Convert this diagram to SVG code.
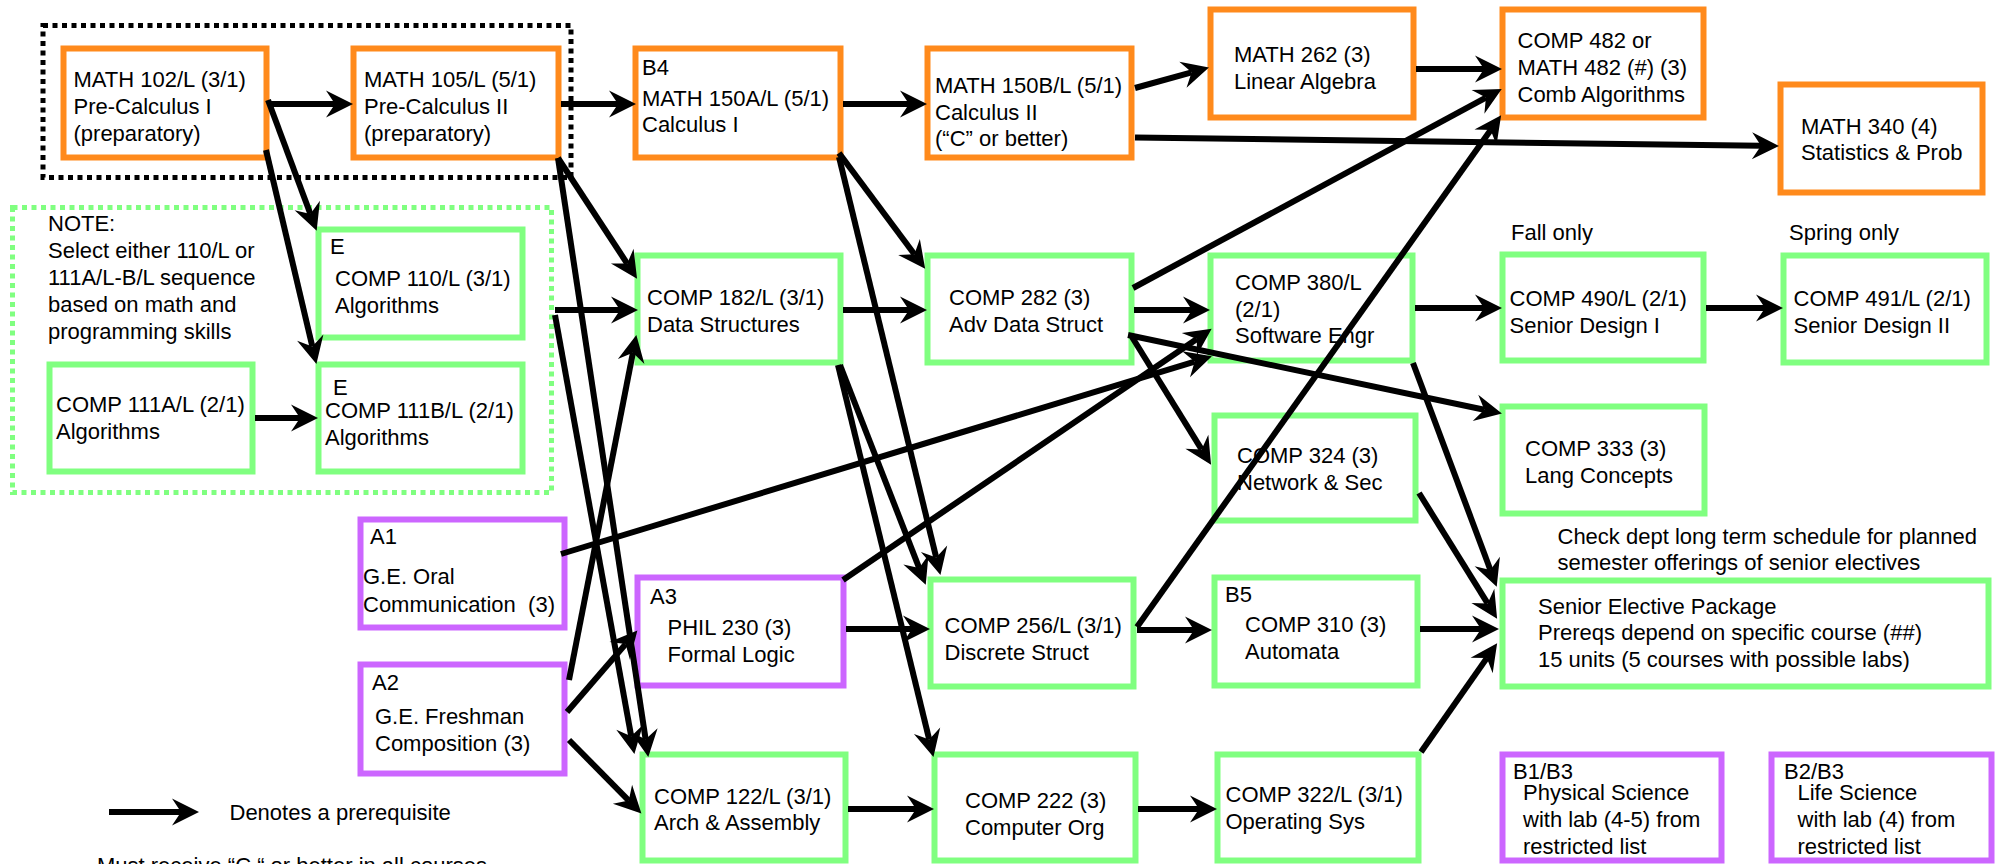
<svg xmlns="http://www.w3.org/2000/svg" width="2011" height="864" viewBox="0 0 2011 864">
<style>
text{font-family:"Liberation Sans",Arial,sans-serif;font-size:22px;fill:#000}
.o{fill:#fff;stroke:#FF8A1C;stroke-width:6}
.g{fill:#fff;stroke:#80FF80;stroke-width:6}
.p{fill:#fff;stroke:#CC66FF;stroke-width:6}
.dotk{fill:none;stroke:#000;stroke-width:5;stroke-dasharray:5 4.5}
.dotg{fill:none;stroke:#80FF80;stroke-width:5;stroke-dasharray:5 4.5}
.c path,.c line{fill:none;stroke:#000;stroke-width:6;marker-end:url(#ah)}
</style>
<defs>
<marker id="ah" markerUnits="userSpaceOnUse" viewBox="-10 -14 30 28" markerWidth="30" markerHeight="28" refX="0" refY="0" orient="auto" overflow="visible">
<path d="M18,0 L-9,-13.5 L0,0 L-9,13.5 Z" fill="#000"/>
</marker>
</defs>
<rect width="2011" height="864" fill="#fff"/>

<g id="groups">
<rect class="dotk" x="43" y="25.5" width="528" height="152"/>
<rect class="dotg" x="12.5" y="207.5" width="539" height="285"/>
</g>

<g id="note">
<text><tspan x="48" y="231">NOTE:</tspan><tspan x="48" y="258">Select either 110/L or</tspan><tspan x="48" y="285">111A/L-B/L sequence</tspan><tspan x="48" y="312">based on math and</tspan><tspan x="48" y="339">programming skills</tspan></text>
</g>

<g id="math102"><rect class="o" x="63.5" y="48.5" width="203" height="109"/>
<text><tspan x="73.5" y="87">MATH 102/L (3/1)</tspan><tspan x="73.5" y="114">Pre-Calculus I</tspan><tspan x="73.5" y="141">(preparatory)</tspan></text></g>

<g id="math105"><rect class="o" x="353.5" y="48.5" width="205" height="109"/>
<text><tspan x="364" y="87">MATH 105/L (5/1)</tspan><tspan x="364" y="114">Pre-Calculus II</tspan><tspan x="364" y="141">(preparatory)</tspan></text></g>

<g id="math150a"><rect class="o" x="635.5" y="48.5" width="205" height="109"/>
<text><tspan x="642" y="74.5">B4</tspan><tspan x="642" y="105.5">MATH 150A/L (5/1)</tspan><tspan x="642" y="132">Calculus I</tspan></text></g>

<g id="math150b"><rect class="o" x="927.5" y="48.5" width="204" height="109"/>
<text><tspan x="935" y="93">MATH 150B/L (5/1)</tspan><tspan x="935" y="119.5">Calculus II</tspan><tspan x="935" y="146">(“C” or better)</tspan></text></g>

<g id="math262"><rect class="o" x="1210.5" y="9.5" width="203" height="108"/>
<text><tspan x="1234" y="62">MATH 262 (3)</tspan><tspan x="1234" y="88.5">Linear Algebra</tspan></text></g>

<g id="comp482"><rect class="o" x="1502.5" y="9.5" width="201" height="108"/>
<text><tspan x="1517.5" y="48">COMP 482 or</tspan><tspan x="1517.5" y="75">MATH 482 (#) (3)</tspan><tspan x="1517.5" y="102">Comb Algorithms</tspan></text></g>

<g id="math340"><rect class="o" x="1780.5" y="84.5" width="202" height="108"/>
<text><tspan x="1801" y="133.5">MATH 340 (4)</tspan><tspan x="1801" y="160">Statistics &amp; Prob</tspan></text></g>

<g id="comp110"><rect class="g" x="318.5" y="229.5" width="204" height="108"/>
<text><tspan x="330" y="254">E</tspan><tspan x="335" y="286">COMP 110/L (3/1)</tspan><tspan x="335" y="313">Algorithms</tspan></text></g>

<g id="comp111a"><rect class="g" x="49.5" y="364.5" width="203" height="107"/>
<text><tspan x="56" y="412">COMP 111A/L (2/1)</tspan><tspan x="56" y="439">Algorithms</tspan></text></g>

<g id="comp111b"><rect class="g" x="318.5" y="364.5" width="204" height="107"/>
<text><tspan x="333" y="395">E</tspan><tspan x="325" y="418">COMP 111B/L (2/1)</tspan><tspan x="325" y="445">Algorithms</tspan></text></g>

<g id="comp182"><rect class="g" x="637.5" y="255.5" width="203" height="107"/>
<text><tspan x="647" y="305">COMP 182/L (3/1)</tspan><tspan x="647" y="332">Data Structures</tspan></text></g>

<g id="comp282"><rect class="g" x="927.5" y="255.5" width="204" height="107"/>
<text><tspan x="949" y="304.5">COMP 282 (3)</tspan><tspan x="949" y="331.5">Adv Data Struct</tspan></text></g>

<g id="comp380"><rect class="g" x="1210.5" y="255.5" width="202" height="105"/>
<text><tspan x="1235" y="290">COMP 380/L</tspan><tspan x="1235" y="317">(2/1)</tspan><tspan x="1235" y="343">Software Engr</tspan></text></g>

<g id="fall"><text x="1511" y="240">Fall only</text></g>
<g id="spring"><text x="1789" y="240">Spring only</text></g>

<g id="comp490"><rect class="g" x="1502.5" y="254.5" width="201" height="106"/>
<text><tspan x="1509.5" y="306">COMP 490/L (2/1)</tspan><tspan x="1509.5" y="333">Senior Design I</tspan></text></g>

<g id="comp491"><rect class="g" x="1783.5" y="255.5" width="203" height="107"/>
<text><tspan x="1793.5" y="306">COMP 491/L (2/1)</tspan><tspan x="1793.5" y="333">Senior Design II</tspan></text></g>

<g id="comp324"><rect class="g" x="1214.5" y="415.5" width="201" height="105"/>
<text><tspan x="1237" y="463">COMP 324 (3)</tspan><tspan x="1237" y="489.5">Network &amp; Sec</tspan></text></g>

<g id="comp333"><rect class="g" x="1502.5" y="406.5" width="202" height="107"/>
<text><tspan x="1525" y="456">COMP 333 (3)</tspan><tspan x="1525" y="483">Lang Concepts</tspan></text></g>

<g id="checknote"><text><tspan x="1557.5" y="543.5">Check dept long term schedule for planned</tspan><tspan x="1557.5" y="569.5">semester offerings of senior electives</tspan></text></g>

<g id="a1"><rect class="p" x="360.5" y="519.5" width="204" height="108"/>
<text xml:space="preserve"><tspan x="370" y="544">A1</tspan><tspan x="363" y="584">G.E. Oral</tspan><tspan x="363" y="611.5">Communication  (3)</tspan></text></g>

<g id="a2"><rect class="p" x="360.5" y="664.5" width="204" height="109"/>
<text><tspan x="372" y="690">A2</tspan><tspan x="375" y="723.5">G.E. Freshman</tspan><tspan x="375" y="750.5">Composition (3)</tspan></text></g>

<g id="phil230"><rect class="p" x="637.5" y="577.5" width="206" height="108"/>
<text><tspan x="650" y="603.5">A3</tspan><tspan x="667.5" y="635">PHIL 230 (3)</tspan><tspan x="667.5" y="661.5">Formal Logic</tspan></text></g>

<g id="comp256"><rect class="g" x="930.5" y="579.5" width="203" height="107"/>
<text><tspan x="944.5" y="632.5">COMP 256/L (3/1)</tspan><tspan x="944.5" y="659.5">Discrete Struct</tspan></text></g>

<g id="comp310"><rect class="g" x="1214.5" y="577.5" width="203" height="108"/>
<text><tspan x="1225" y="601.5">B5</tspan><tspan x="1245" y="631.5">COMP 310 (3)</tspan><tspan x="1245" y="658.5">Automata</tspan></text></g>

<g id="senior"><rect class="g" x="1502.5" y="580.5" width="486" height="106"/>
<text><tspan x="1538" y="613.5">Senior Elective Package</tspan><tspan x="1538" y="640">Prereqs depend on specific course (##)</tspan><tspan x="1538" y="666.5">15 units (5 courses with possible labs)</tspan></text></g>

<g id="comp122"><rect class="g" x="642.5" y="754.5" width="203" height="106"/>
<text><tspan x="654" y="803.5">COMP 122/L (3/1)</tspan><tspan x="654" y="830">Arch &amp; Assembly</tspan></text></g>

<g id="comp222"><rect class="g" x="934.5" y="754.5" width="201" height="106"/>
<text><tspan x="965" y="807.5">COMP 222 (3)</tspan><tspan x="965" y="834.5">Computer Org</tspan></text></g>

<g id="comp322"><rect class="g" x="1217.5" y="754.5" width="201" height="106"/>
<text><tspan x="1225.5" y="801.5">COMP 322/L (3/1)</tspan><tspan x="1225.5" y="828.5">Operating Sys</tspan></text></g>

<g id="b1b3"><rect class="p" x="1502.5" y="754.5" width="219" height="106"/>
<text><tspan x="1513" y="778.5">B1/B3</tspan><tspan x="1523" y="800">Physical Science</tspan><tspan x="1523" y="826.5">with lab (4-5) from</tspan><tspan x="1523" y="853.5">restricted list</tspan></text></g>

<g id="b2b3"><rect class="p" x="1771.5" y="754.5" width="220" height="106"/>
<text><tspan x="1784" y="778.5">B2/B3</tspan><tspan x="1797.5" y="800">Life Science</tspan><tspan x="1797.5" y="826.5">with lab (4) from</tspan><tspan x="1797.5" y="853.5">restricted list</tspan></text></g>

<g id="legend">
<text x="229.5" y="819.5">Denotes a prerequisite</text>
<text x="97" y="873">Must receive “C “ or better in all courses</text>
</g>

<g id="connectors" class="c">
<line x1="109" y1="812" x2="181" y2="812"/>
<line x1="269" y1="104" x2="335" y2="104"/>
<line x1="561" y1="104" x2="618" y2="104"/>
<line x1="843" y1="104" x2="909" y2="104"/>
<line x1="1135" y1="88" x2="1191.6" y2="72.3"/>
<line x1="1416" y1="69" x2="1484" y2="69"/>
<line x1="1135" y1="137.5" x2="1761" y2="145.8"/>
<line x1="268" y1="100" x2="310.4" y2="214"/>
<line x1="266" y1="150" x2="312.3" y2="346.4"/>
<line x1="255" y1="418" x2="300" y2="418"/>
<line x1="558" y1="158" x2="627.2" y2="263.6"/>
<line x1="558" y1="158" x2="645.6" y2="739.2"/>
<line x1="555" y1="310" x2="620" y2="310"/>
<line x1="555" y1="315" x2="631.2" y2="736.3"/>
<line x1="839" y1="153" x2="914.4" y2="254.2"/>
<line x1="839" y1="157" x2="936.2" y2="557.5"/>
<line x1="843" y1="310" x2="909" y2="310"/>
<line x1="840" y1="365" x2="919.2" y2="568.1"/>
<line x1="838" y1="365" x2="929.2" y2="739.5"/>
<line x1="1134" y1="310" x2="1192" y2="310"/>
<line x1="1133" y1="288" x2="1485.9" y2="97.6"/>
<line x1="1128" y1="335" x2="1484.3" y2="409.7"/>
<line x1="1132" y1="337" x2="1201.6" y2="449.4"/>
<line x1="1415" y1="308" x2="1484" y2="308"/>
<line x1="1706" y1="308" x2="1765" y2="308"/>
<line x1="1413" y1="363" x2="1490.4" y2="570"/>
<line x1="1419" y1="493" x2="1487.6" y2="603.4"/>
<line x1="1420" y1="629" x2="1481" y2="629"/>
<line x1="1421" y1="752" x2="1486.8" y2="658.1"/>
<line x1="561" y1="554" x2="1194.7" y2="361.6"/>
<line x1="843" y1="580" x2="1196.8" y2="339"/>
<line x1="569" y1="680" x2="632.9" y2="352.7"/>
<line x1="567" y1="712" x2="625.6" y2="644.1"/>
<line x1="569" y1="740" x2="628.8" y2="800.6"/>
<line x1="846" y1="629" x2="912" y2="629"/>
<line x1="1137" y1="630" x2="1194" y2="630"/>
<line x1="1137" y1="627" x2="1490.7" y2="130"/>
<line x1="848" y1="809" x2="916" y2="809"/>
<line x1="1138" y1="809" x2="1199" y2="809"/>
</g>
</svg>
